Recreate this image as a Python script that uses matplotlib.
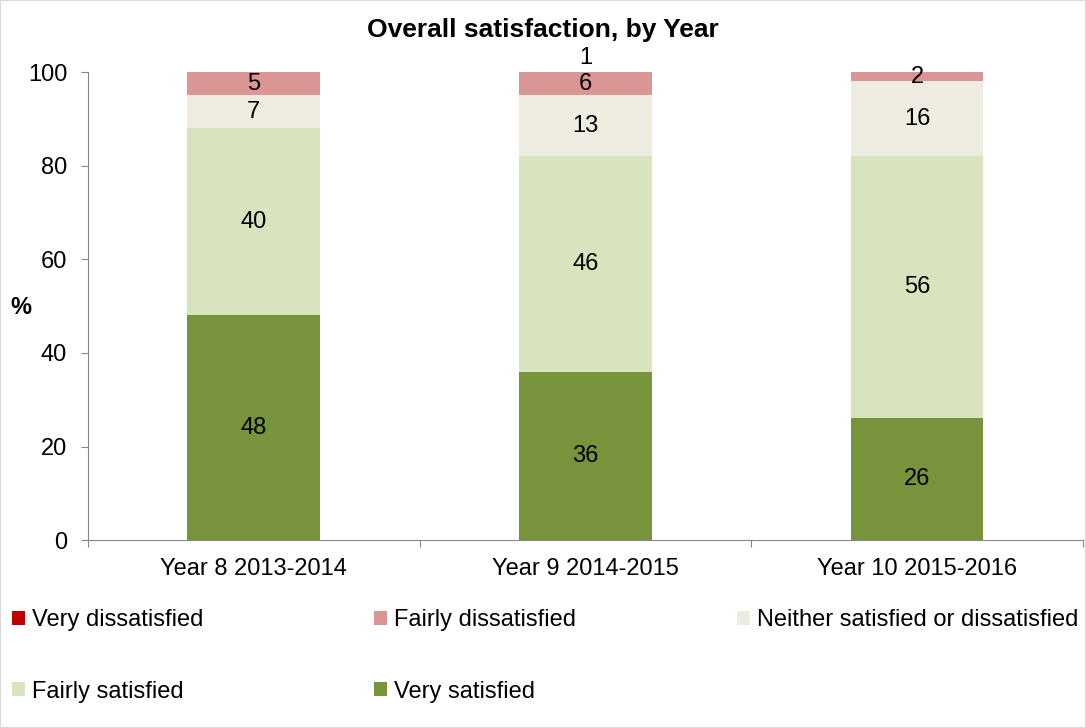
import numpy as np
import matplotlib.pyplot as plt
from matplotlib.patches import Rectangle

plt.rcParams['font.family'] = ['Liberation Sans', 'DejaVu Sans']

# Dữ liệu
years = ['Year 8 2013-2014', 'Year 9 2014-2015', 'Year 10 2015-2016']
very_satisfied = [48, 36, 26]
fairly_satisfied = [40, 46, 56]
neither = [7, 13, 16]
fairly_dissatisfied = [5, 6, 2]
very_dissatisfied = [0, 1, 0]

series = [
    ('Very satisfied', very_satisfied, '#77933C'),
    ('Fairly satisfied', fairly_satisfied, '#D7E4BD'),
    ('Neither satisfied or dissatisfied', neither, '#EEECE1'),
    ('Fairly dissatisfied', fairly_dissatisfied, '#D99694'),
    ('Very dissatisfied', very_dissatisfied, '#C00000'),
]

FS = 17

fig = plt.figure(figsize=(10.86, 7.28), dpi=100)
ax = fig.add_axes([0.081, 0.258, 0.916, 0.643])

x = np.arange(len(years))
bottom = np.zeros(len(years))
handles = {}
for name, vals, color in series:
    vals = np.array(vals, dtype=float)
    b = ax.bar(x, vals, 0.4, bottom=bottom, color=color, label=name)
    handles[name] = b
    for i in range(len(years)):
        if vals[i] <= 0:
            continue
        top = bottom[i] + vals[i]
        if bottom[i] >= 100:
            # nhãn nằm phía trên vùng vẽ
            ax.annotate(f'{vals[i]:.0f}', (x[i], 100), xytext=(0, 14),
                        textcoords='offset pixels', ha='center', va='center',
                        fontsize=FS, annotation_clip=False)
        else:
            yc = (bottom[i] + min(top, 100)) / 2
            ax.text(x[i], yc, f'{vals[i]:.0f}', ha='center', va='center', fontsize=FS)
    bottom += vals

ax.set_ylim(0, 100)
ax.set_xlim(-0.5, 2.5)
ax.set_yticks(np.arange(0, 101, 20))
ax.set_xticks([-0.5, 0.5, 1.5, 2.5])
ax.set_xticklabels([])
ax.set_xticks(x, minor=True)
ax.set_xticklabels(years, minor=True)
ax.tick_params(axis='x', which='minor', length=0, pad=13, labelsize=FS)
ax.tick_params(axis='x', which='major', length=5, color='#868686')
ax.tick_params(axis='y', length=5, color='#868686', labelsize=FS, pad=10)
for s in ['top', 'right']:
    ax.spines[s].set_visible(False)
for s in ['left', 'bottom']:
    ax.spines[s].set_color('#868686')

fig.text(0.4995, 1 - 37 / 728, 'Overall satisfaction, by Year', fontsize=19,
         fontweight='bold', ha='center', va='baseline')
fig.text(21 / 1086, 1 - 307 / 728, '%', fontsize=FS, fontweight='bold',
         ha='center', va='center')

# Chú giải: 3 cột, mỗi cột là một legend riêng
columns = [['Very dissatisfied', 'Fairly satisfied'],
           ['Fairly dissatisfied', 'Very satisfied'],
           ['Neither satisfied or dissatisfied']]
col_x = [12, 374, 737]
for names, cx in zip(columns, col_x):
    fig.legend([handles[n] for n in names], names, loc='upper left',
               bbox_to_anchor=(cx / 1086, 1 - 609 / 728), frameon=False,
               fontsize=FS, handlelength=0.55, handleheight=0.55,
               handletextpad=0.3, labelspacing=2.1, borderpad=0,
               borderaxespad=0)

fig.patches.append(Rectangle((0, 0), 1, 1, transform=fig.transFigure,
                             fill=False, edgecolor='#d9d9d9', linewidth=1.5))

plt.savefig('out.png', dpi=100)
